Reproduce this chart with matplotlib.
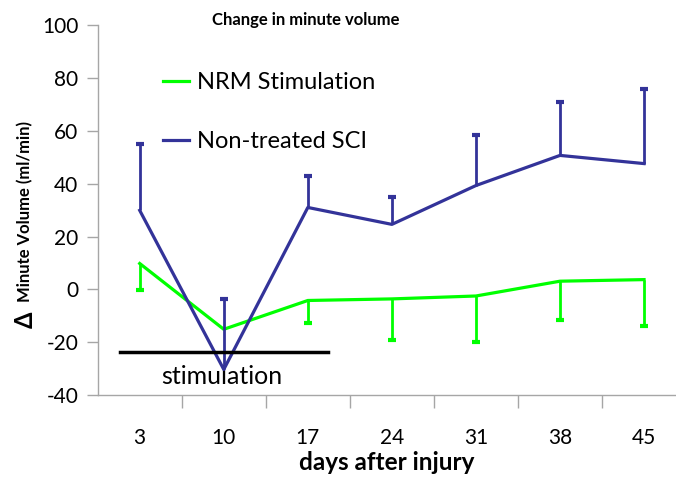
import numpy as np
import matplotlib.pyplot as plt

plt.rcParams["font.family"] = ["Lato", "DejaVu Sans"]
plt.rcParams["axes.unicode_minus"] = False

days = ["3", "10", "17", "24", "31", "38", "45"]

# NRM stimulation group (error bars drawn downward)
nrm_mean = [9.8, -15.1, -4.2, -3.6, -2.5, 3.1, 3.7]
nrm_low = [-0.4, np.nan, -12.9, -19.3, -19.9, -11.7, -14.0]

# non-treated SCI group (error bars drawn upward)
sci_mean = [29.9, -30.3, 31.0, 24.6, 39.3, 50.7, 47.6]
sci_high = [55.2, -3.8, 42.8, 34.9, 58.6, 70.9, 75.7]

# stimulation period marker
stim_span = [-0.23, 2.24]
stim_level = -23.8

GREEN = "#00ff00"
BLUE = "#333399"
GRAY = "#a6a6a6"

fig = plt.figure(figsize=(6.76, 4.83), dpi=100)
ax = fig.add_axes([0.1445, 0.182, 0.8555, 0.766])

x = np.arange(len(days))

ax.plot(x, nrm_mean, color=GREEN, lw=2.3, label="NRM Stimulation", zorder=3)
ax.vlines(x, nrm_mean, nrm_low, color=GREEN, lw=2.0, zorder=3)
ax.plot(x, nrm_low, ls="none", marker="_", ms=6, mew=3, color=GREEN, zorder=3)

ax.plot(x, sci_mean, color=BLUE, lw=2.3, label="Non-treated SCI", zorder=4)
ax.vlines(x, sci_mean, sci_high, color=BLUE, lw=2.0, zorder=4)
ax.plot(x, sci_high, ls="none", marker="_", ms=6, mew=3, color=BLUE, zorder=4)

ax.plot(stim_span, [stim_level, stim_level], color="black", lw=2.5, zorder=5)
ax.text(0.98, -32.8, "stimulation", ha="center", va="center", fontsize=18)

ax.set_ylim(-40, 100)
ax.set_yticks(np.arange(-40, 101, 20))
ax.set_xlim(-0.5, 6.38)
ax.set_xticks(x)
ax.set_xticklabels(days)
ax.set_xticks(np.arange(0.5, 6, 1), minor=True)
ax.tick_params(axis="x", which="major", length=0, pad=24, labelsize=15)
ax.tick_params(axis="x", which="minor", length=9, color=GRAY, width=1)
ax.tick_params(axis="y", length=8, color=GRAY, width=1, labelsize=15, pad=6)

for s in ["top", "right"]:
    ax.spines[s].set_visible(False)
for s in ["left", "bottom"]:
    ax.spines[s].set_color(GRAY)
    ax.spines[s].set_linewidth(1)

ax.set_xlabel("days after injury", fontsize=17.5, fontweight="bold", labelpad=2)
fig.text(0.037, 0.321, "Δ", rotation=90, ha="center", va="bottom",
         fontsize=17, fontweight="bold")
fig.text(0.037, 0.375, "Minute Volume (ml/min)", rotation=90, ha="center",
         va="bottom", fontsize=12, fontweight="bold")
fig.text(0.452, 0.958, "Change in minute volume", ha="center", va="center",
         fontsize=12, fontweight="bold")

ax.legend(loc="upper left", bbox_to_anchor=(163 / 676, 1 - 72 / 483),
          bbox_transform=fig.transFigure, frameon=False, fontsize=17,
          handlelength=1.1, handletextpad=0.34, labelspacing=1.6,
          borderpad=0, borderaxespad=0)

fig.savefig("out.png", dpi=100)
